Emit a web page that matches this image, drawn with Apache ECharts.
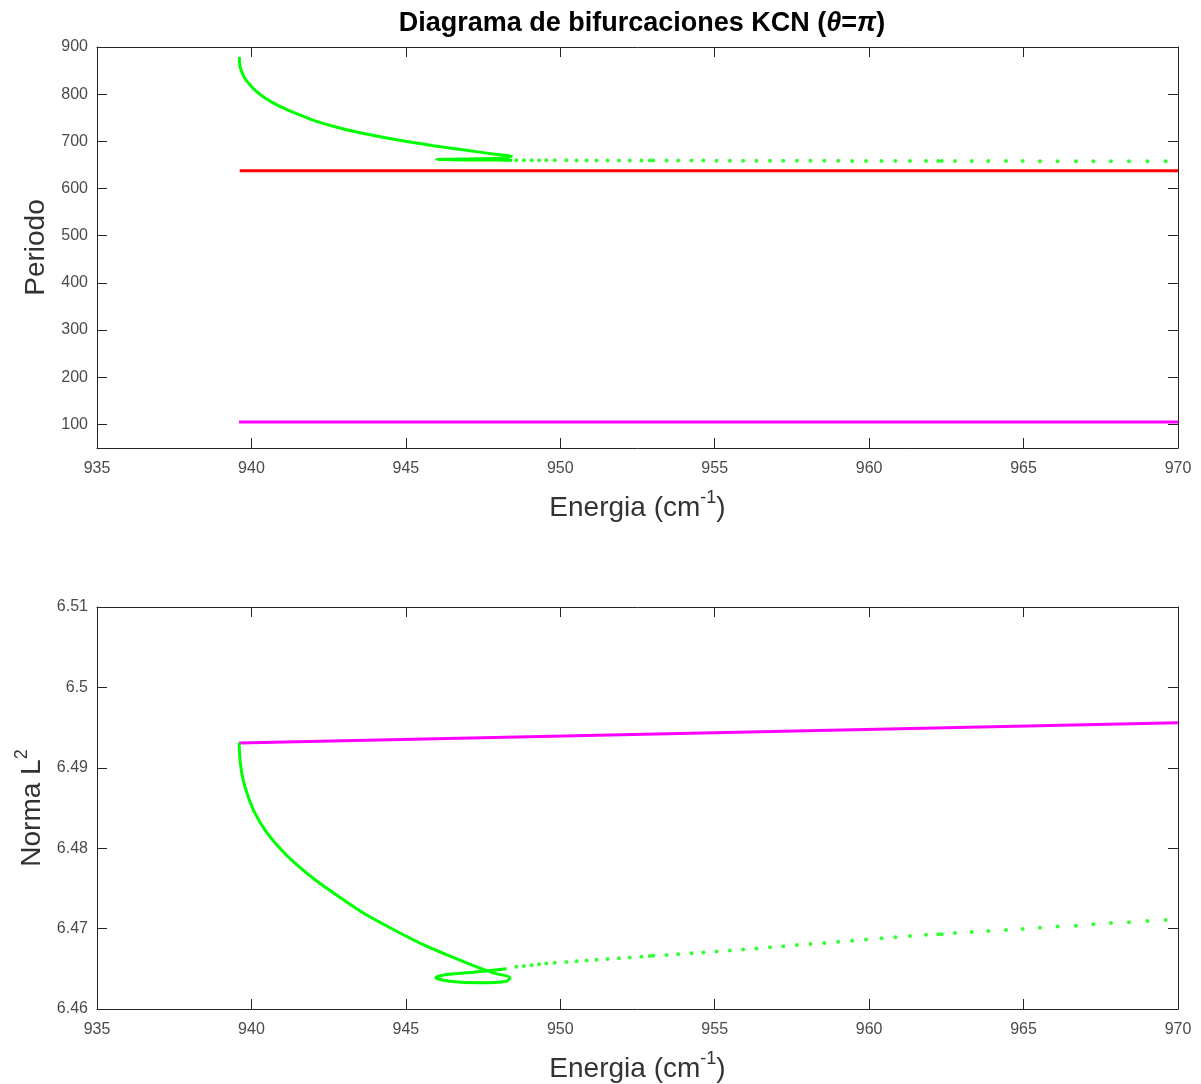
<!DOCTYPE html>
<html>
<head>
<meta charset="utf-8">
<script src="https://cdn.jsdelivr.net/npm/echarts@6/dist/echarts.min.js"></script>
<style>html,body{margin:0;padding:0;background:#fff}#c{width:1201px;height:1084px}</style>
</head>
<body>
<div id="c"></div>
<script>
// ---- data ----
const xTicks = [935, 940, 945, 950, 955, 960, 965, 970];
const periodTicks = [100, 200, 300, 400, 500, 600, 700, 800, 900];
const normTicks = [6.46, 6.47, 6.48, 6.49, 6.5, 6.51];

// stable green branch (Periodo)
const greenE_top = [939.61, 939.62, 939.68, 939.78, 939.95, 940.16, 940.49, 940.92, 941.46, 942.11, 942.86, 943.72, 944.80, 945.88, 946.96, 947.82, 948.42, 948.04, 946.96, 945.99, 946.96, 948.00, 948.45];
const greenP = [878.8, 862.5, 848.3, 834.3, 820.1, 806.0, 789.9, 774.2, 758.7, 742.4, 728.4, 715.7, 702.2, 690.9, 681.0, 673.4, 668.3, 664.0, 662.8, 661.3, 660.4, 660.3, 660.0];

// stable green branch (Norma L2)
const greenE_bot = [939.60, 939.64, 939.73, 939.89, 940.11, 940.43, 940.86, 941.40, 942.05, 942.81, 943.61, 944.59, 945.67, 946.96, 947.83, 948.37, 948.26, 947.39, 946.42, 945.97, 946.32, 947.18, 948.26];
const greenN = [6.49311, 6.49062, 6.48854, 6.48647, 6.48440, 6.48232, 6.48025, 6.47818, 6.47611, 6.47403, 6.47196, 6.46989, 6.46781, 6.46575, 6.46450, 6.46388, 6.46346, 6.46326, 6.46346, 6.46388, 6.46429, 6.46458, 6.46500];

// unstable green branch (dots)
const dotE = [948.58, 948.82, 949.07, 949.31, 949.55, 949.82, 950.20, 950.53, 950.85, 951.17, 951.53, 951.90, 952.25, 952.63, 952.90, 953.01, 953.44, 953.82, 954.25, 954.63, 955.06,
              955.49, 955.92, 956.35, 956.79, 957.22, 957.66, 958.10, 958.55, 959.00, 959.45, 959.90, 960.40, 960.85,
              961.32, 961.84, 962.24, 962.35, 962.78, 963.32, 963.86, 964.43, 964.97, 965.53, 966.10, 966.69, 967.26, 967.83, 968.41, 969.01, 969.60];
const dotP = [659.9, 659.9, 659.8, 659.8, 659.8, 659.7, 659.7, 659.6, 659.6, 659.6, 659.5, 659.5, 659.4, 659.4, 659.4, 659.3, 659.3, 659.3, 659.2, 659.2, 659.1,
              659.1, 659.0, 659.0, 658.9, 658.9, 658.8, 658.8, 658.7, 658.7, 658.6, 658.6, 658.5, 658.5,
              658.4, 658.4, 658.3, 658.3, 658.3, 658.2, 658.2, 658.1, 658.1, 658.0, 658.0, 657.9, 657.9, 657.8, 657.8, 657.7, 657.7];
const dotN = [6.46525, 6.46535, 6.46544, 6.46556, 6.46565, 6.46574, 6.46585, 6.46594, 6.46602, 6.46612, 6.46621, 6.46631, 6.46641, 6.46651, 6.46658, 6.46661, 6.46672, 6.46681, 6.46693, 6.46703, 6.46714,
              6.46727, 6.46741, 6.46754, 6.46768, 6.46781, 6.46795, 6.46808, 6.46822, 6.46836, 6.46850, 6.46864, 6.46879, 6.46893,
              6.46908, 6.46925, 6.46929, 6.46929, 6.46945, 6.46958, 6.46970, 6.46983, 6.46995, 6.47012, 6.47025, 6.47037, 6.47053, 6.47070, 6.47078, 6.47095, 6.47107];

// red branch (Periodo)
const redE = [939.62, 970.0];
const redP = [637.8, 637.8];

// magenta branch
const magE = [939.60, 970.0];
const magP = [105.3, 105.3];
const magN = [6.4931, 6.4956];

// ---- build ----
const zip = (a, b) => a.map((v, i) => [v, b[i]]);
const FONT = '"Liberation Sans", Arial, Helvetica, sans-serif';
const AX = '#262626';
const LBL = '#4a4a4a';
const NAMEC = '#333';

function xAxisMain(grid) {
  return {
    type: 'value', gridIndex: grid, min: xTicks[0], max: xTicks[xTicks.length - 1], interval: 5,
    position: 'bottom',
    name: '{a|Energia (cm}{s|-1}{a|)}', nameLocation: 'middle', nameGap: 41,
    nameTextStyle: { rich: {
      a: { fontFamily: FONT, fontSize: 28, color: NAMEC },
      s: { fontFamily: FONT, fontSize: 18, color: NAMEC, padding: [0, 0, 20, 0] }
    } },
    axisLine: { show: true, onZero: false, lineStyle: { color: AX, width: 1 } },
    axisTick: { show: true, inside: true, length: 10, lineStyle: { color: AX } },
    axisLabel: { show: true, margin: 13, color: LBL, fontFamily: FONT, fontSize: 16 },
    splitLine: { show: false }
  };
}
function xAxisTop(grid) {
  return {
    type: 'value', gridIndex: grid, min: xTicks[0], max: xTicks[xTicks.length - 1], interval: 5,
    position: 'top',
    axisLine: { show: true, onZero: false, lineStyle: { color: AX, width: 1 } },
    axisTick: { show: true, inside: true, length: 10, lineStyle: { color: AX } },
    axisLabel: { show: false }, splitLine: { show: false }
  };
}

const yTop = {
  type: 'value', gridIndex: 0, min: 50, max: 900, position: 'left',
  name: 'Periodo', nameLocation: 'middle', nameGap: 46, nameRotate: 90,
  nameTextStyle: { fontFamily: FONT, fontSize: 28, color: NAMEC },
  axisLine: { show: true, onZero: false, lineStyle: { color: AX, width: 1 } },
  axisTick: { show: true, inside: true, length: 10, lineStyle: { color: AX }, customValues: periodTicks },
  axisLabel: { show: true, margin: 9, color: LBL, fontFamily: FONT, fontSize: 16, customValues: periodTicks },
  splitLine: { show: false }
};
const yTopR = {
  type: 'value', gridIndex: 0, min: 50, max: 900, position: 'right',
  axisLine: { show: true, onZero: false, lineStyle: { color: AX, width: 1 } },
  axisTick: { show: true, inside: true, length: 10, lineStyle: { color: AX }, customValues: periodTicks },
  axisLabel: { show: false, customValues: periodTicks }, splitLine: { show: false }
};
const yBot = {
  type: 'value', gridIndex: 1, min: 6.46, max: 6.51, interval: 0.01, position: 'left',
  name: '{a|Norma L}{s|2}', nameLocation: 'middle', nameGap: 46, nameRotate: 90,
  nameTextStyle: { rich: {
    a: { fontFamily: FONT, fontSize: 28, color: NAMEC },
    s: { fontFamily: FONT, fontSize: 18, color: NAMEC, padding: [0, 0, 20, 0] }
  } },
  axisLine: { show: true, onZero: false, lineStyle: { color: AX, width: 1 } },
  axisTick: { show: true, inside: true, length: 10, lineStyle: { color: AX } },
  axisLabel: { show: true, margin: 9, color: LBL, fontFamily: FONT, fontSize: 16,
    formatter: v => String(Math.round(v * 100) / 100) },
  splitLine: { show: false }
};
const yBotR = {
  type: 'value', gridIndex: 1, min: 6.46, max: 6.51, interval: 0.01, position: 'right',
  axisLine: { show: true, onZero: false, lineStyle: { color: AX, width: 1 } },
  axisTick: { show: true, inside: true, length: 10, lineStyle: { color: AX } },
  axisLabel: { show: false }, splitLine: { show: false }
};

const lineS = (xi, yi, data, color, smooth) => ({
  type: 'line', xAxisIndex: xi, yAxisIndex: yi, data, showSymbol: false, symbol: 'none',
  smooth: smooth || false,
  lineStyle: { color, width: 3 }, itemStyle: { color }, animation: false, z: 3
});
const dotS = (xi, yi, data) => ({
  type: 'scatter', xAxisIndex: xi, yAxisIndex: yi, data, symbol: 'circle', symbolSize: 4,
  itemStyle: { color: '#00ff00' }, animation: false, z: 2
});

const option = {
  animation: false,
  backgroundColor: '#fff',
  title: {
    text: '{b|Diagrama de bifurcaciones KCN (}{i|θ}{b|=}{i|π}{b|)}',
    left: 637, top: 5, textAlign: 'center',
    textStyle: { rich: {
      b: { fontFamily: FONT, fontWeight: 'bold', fontSize: 27, color: '#000' },
      i: { fontFamily: FONT, fontStyle: 'italic', fontSize: 27, color: '#000' }
    } }
  },
  grid: [
    { left: 97, right: 23, top: 47, height: 401, containLabel: false },
    { left: 97, right: 23, top: 607, height: 402, containLabel: false }
  ],
  xAxis: [xAxisMain(0), xAxisTop(0), xAxisMain(1), xAxisTop(1)],
  yAxis: [yTop, yTopR, yBot, yBotR],
  series: [
    lineS(0, 0, zip(redE, redP), '#ff0000'),
    lineS(0, 0, zip(magE, magP), '#ff00ff'),
    dotS(0, 0, zip(dotE, dotP)),
    lineS(0, 0, zip(greenE_top, greenP), '#00ff00', 0.3),
    lineS(2, 2, zip(magE, magN), '#ff00ff'),
    dotS(2, 2, zip(dotE, dotN)),
    lineS(2, 2, zip(greenE_bot, greenN), '#00ff00', 0.3)
  ]
};
const chart = echarts.init(document.getElementById('c'), null, { renderer: 'canvas' });
chart.setOption(option);
</script>
</body>
</html>
